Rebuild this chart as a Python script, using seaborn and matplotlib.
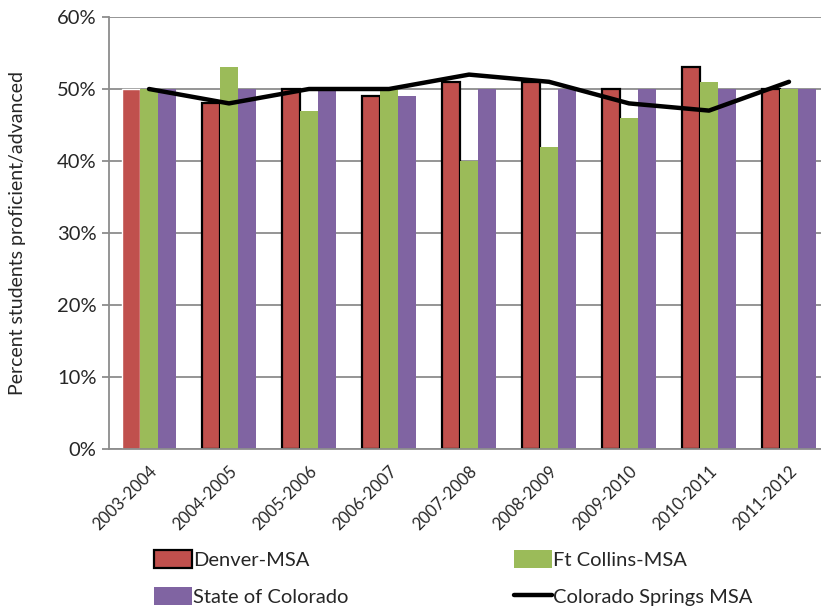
import matplotlib
matplotlib.use("Agg")
import matplotlib.pyplot as plt
import seaborn as sns
import pandas as pd
from matplotlib.patches import Patch
from matplotlib.lines import Line2D

years = ["2003-2004", "2004-2005", "2005-2006", "2006-2007", "2007-2008",
         "2008-2009", "2009-2010", "2010-2011", "2011-2012"]
denver = [50, 48, 50, 49, 51, 51, 50, 53, 50]
ft_collins = [50, 53, 47, 50, 40, 42, 46, 51, 50]
state = [50, 50, 50, 49, 50, 50, 50, 50, 50]
springs = [50, 48, 50, 50, 52, 51, 48, 47, 51]
series_names = ["Denver-MSA", "Ft Collins-MSA", "State of Colorado"]
line_name = "Colorado Springs MSA"
colors = ["#C0504D", "#9BBB59", "#8064A2"]
yticks = [0, 10, 20, 30, 40, 50, 60]

sns.set_style("white")
plt.rcParams['font.family'] = ['Lato', 'DejaVu Sans']

df = pd.DataFrame({
    "year": years * 3,
    "value": denver + ft_collins + state,
    "series": [series_names[0]] * 9 + [series_names[1]] * 9 + [series_names[2]] * 9,
})

fig = plt.figure(figsize=(8.21, 6.07), dpi=100)
ax = fig.add_axes([109 / 821, 1 - 449 / 607, 720 / 821, 432 / 607])

sns.barplot(data=df, x="year", y="value", hue="series", hue_order=series_names,
            palette=colors, width=0.675, gap=0, saturation=1, ax=ax,
            legend=False, zorder=2)

for i, p in enumerate(ax.containers[0]):
    if i > 0:
        p.set_edgecolor("black")
        p.set_linewidth(1.6)
for c in ax.containers[1:]:
    for p in c:
        p.set_edgecolor("none")

sns.lineplot(x=list(range(len(years))), y=springs, ax=ax, color="black",
             lw=3.2, sort=False, zorder=4)

ax.set_xlim(-0.5, len(years) - 0.5)
ax.set_ylim(0, 60)
ax.set_yticks(yticks)
ax.set_yticklabels([f"{v}%" for v in yticks], fontsize=14.5)
ax.yaxis.grid(True, color="#8c8c8c", lw=1.3, zorder=0)
ax.set_axisbelow(True)
ax.set_xlabel("")
ax.set_ylabel("Percent students proficient/advanced", fontsize=14, labelpad=22)
ax.set_xticks(range(len(years)))
ax.set_xticklabels(years, rotation=45, ha="right", rotation_mode="anchor", fontsize=12)
ax.set_xticks([i - 0.5 for i in range(len(years) + 1)], minor=True)
ax.tick_params(axis="x", which="major", length=0, pad=10)
ax.tick_params(axis="x", which="minor", length=6, color="#8c8c8c", width=1.3, direction="out")
ax.tick_params(axis="y", length=5, color="#8c8c8c", width=1.3, direction="out", left=True, pad=4)
for s in ["top", "right"]:
    ax.spines[s].set_visible(False)
for s in ["left", "bottom"]:
    ax.spines[s].set_color("#8c8c8c")
    ax.spines[s].set_linewidth(1.3)

handles = [
    Patch(facecolor=colors[0], edgecolor="black", linewidth=1.6, label=series_names[0]),
    Patch(facecolor=colors[2], edgecolor="none", label=series_names[2]),
    Patch(facecolor=colors[1], edgecolor="none", label=series_names[1]),
    Line2D([0], [0], color="black", lw=3.2, label=line_name),
]
fig.legend(handles=handles, ncol=2, loc="upper left",
           bbox_to_anchor=(146 / 821, 1 - 542 / 607), frameon=False,
           fontsize=14.5, handlelength=1.9, handleheight=1.0, handletextpad=0.05,
           columnspacing=8.2, labelspacing=0.9, borderaxespad=0)

fig.savefig("out.png", dpi=100)
